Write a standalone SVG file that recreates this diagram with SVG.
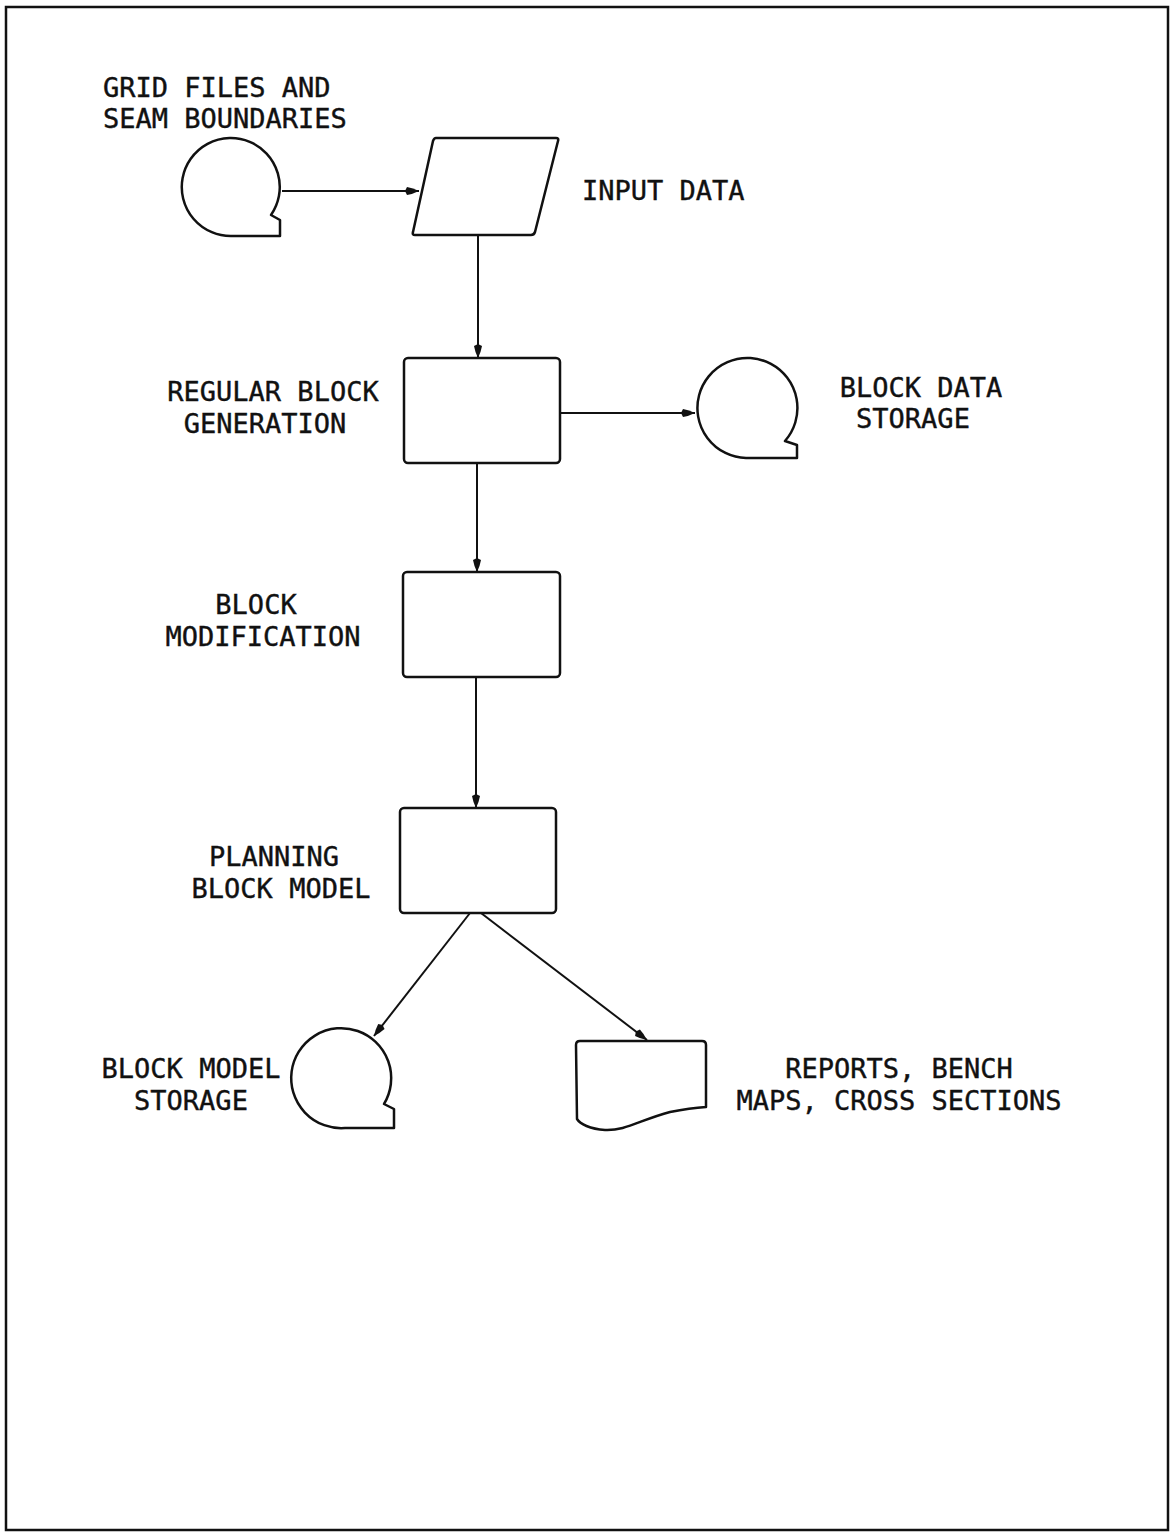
<svg xmlns="http://www.w3.org/2000/svg" width="1171" height="1535" viewBox="0 0 1171 1535">
<style>
.s{fill:none;stroke:#111;stroke-width:2.5;stroke-linejoin:round}
.c{fill:none;stroke:#111;stroke-width:2}
text{font-family:"DejaVu Sans Mono","Liberation Mono",monospace;font-size:27px;fill:#111;stroke:#111;stroke-width:0.4}
.m{text-anchor:middle}
</style>
<defs>
<marker id="ah" viewBox="0 0 14 10" refX="14" refY="5" markerWidth="14" markerHeight="10" markerUnits="userSpaceOnUse" orient="auto">
<path d="M0,5 L2,1 Q8,2 14,5 Q8,8 2,9 Z" fill="#111"/>
</marker>
</defs>
<rect x="6" y="7" width="1162" height="1523" fill="none" stroke="#111" stroke-width="2.5"/>
<g id="connectors">
<line class="c" x1="282" y1="191" x2="419" y2="191" marker-end="url(#ah)"/>
<line class="c" x1="478" y1="236" x2="478" y2="358" marker-end="url(#ah)"/>
<line class="c" x1="560" y1="413" x2="695" y2="413" marker-end="url(#ah)"/>
<line class="c" x1="477" y1="463" x2="477" y2="572" marker-end="url(#ah)"/>
<line class="c" x1="476" y1="677" x2="476" y2="808" marker-end="url(#ah)"/>
<line class="c" x1="470" y1="913" x2="374" y2="1036" marker-end="url(#ah)"/>
<line class="c" x1="481" y1="913" x2="647" y2="1040" marker-end="url(#ah)"/>
</g>
<g id="grid-files">
<path class="s" d="M271,215 A49,49 0 1 0 232,236 L280,236 L280,220 Z"/>
<text x="103" y="97">GRID FILES AND</text>
<text x="103" y="128">SEAM BOUNDARIES</text>
</g>
<g id="input-data">
<path class="s" d="M436,138 L556,138 Q559,138 558,141 L535,232 Q534,235 531,235 L415,235 Q412,235 413,232 L433,141 Q434,138 436,138 Z"/>
<text x="582" y="200">INPUT DATA</text>
</g>
<g id="regular-block">
<rect class="s" x="404" y="358" width="156" height="105" rx="4"/>
<text class="m" x="273" y="401">REGULAR BLOCK</text>
<text class="m" x="265" y="433">GENERATION</text>
</g>
<g id="block-data-storage">
<path class="s" d="M785,441 A50,50 0 1 0 746,458 L797,458 L797,445 Z"/>
<text class="m" x="921" y="397">BLOCK DATA</text>
<text class="m" x="913" y="428">STORAGE</text>
</g>
<g id="block-modification">
<rect class="s" x="403" y="572" width="157" height="105" rx="4"/>
<text class="m" x="256" y="614">BLOCK</text>
<text class="m" x="263" y="646">MODIFICATION</text>
</g>
<g id="planning-block-model">
<rect class="s" x="400" y="808" width="156" height="105" rx="4"/>
<text class="m" x="274" y="866">PLANNING</text>
<text class="m" x="281" y="898">BLOCK MODEL</text>
</g>
<g id="block-model-storage">
<path class="s" d="M384,1104 A50,50 0 1 0 345,1128 L394,1128 L394,1109 Z"/>
<text class="m" x="191" y="1078">BLOCK MODEL</text>
<text class="m" x="191" y="1110">STORAGE</text>
</g>
<g id="reports">
<path class="s" d="M580,1041 L702,1041 Q706,1041 706,1045 L706,1107 Q690,1108 670,1112 C640,1120 625,1131 605,1130 C590,1129 580,1124 577,1119 L576,1045 Q576,1041 580,1041 Z"/>
<text class="m" x="899" y="1078">REPORTS, BENCH</text>
<text class="m" x="899" y="1110">MAPS, CROSS SECTIONS</text>
</g>
</svg>
